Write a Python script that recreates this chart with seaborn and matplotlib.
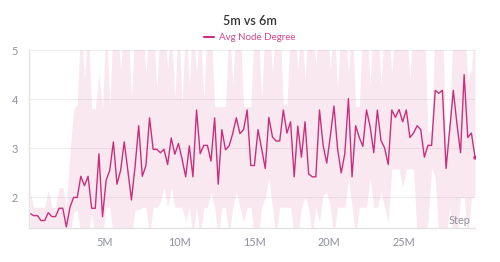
import numpy as np
import pandas as pd
import matplotlib
matplotlib.use("Agg")
import matplotlib.pyplot as plt
import seaborn as sns

title = "5m vs 6m"
series_name = "Avg Node Degree"
x_label = "Step"
x_ticks = [5e6, 10e6, 15e6, 20e6, 25e6]
x_tick_labels = ["5M", "10M", "15M", "20M", "25M"]
y_ticks = [2, 3, 4, 5]
y_tick_labels = ["2", "3", "4", "5"]

avg_degree = [
    1.67, 1.63, 1.63, 1.53, 1.53, 1.69, 1.61, 1.61, 1.78, 1.78, 1.40, 1.80, 2.00, 2.00, 2.43, 2.24, 2.43, 1.78, 1.78, 2.89, 1.61,
    2.35, 2.55, 3.13, 2.27, 2.55, 3.13, 2.55, 1.95, 2.63, 3.46, 2.43, 2.65, 3.62, 2.98, 2.98, 2.91, 2.98, 2.67, 3.21, 2.88, 3.10, 2.78,
    2.42, 3.05, 2.42, 3.78, 2.89, 3.06, 3.06, 2.74, 3.62, 2.27, 3.38, 2.97, 3.05, 3.30, 3.62, 3.30, 3.38, 3.78, 2.65, 2.65,
    3.38, 2.99, 2.59, 3.63, 3.23, 3.15, 3.15, 3.78, 3.31, 3.54, 2.42, 3.45, 2.82, 3.54, 2.48, 2.42, 2.42, 3.78, 3.06, 2.70, 3.25,
    3.86, 2.99, 2.50, 2.89, 4.01, 2.42, 3.46, 3.22, 3.04, 3.78, 3.44, 2.91, 3.78, 3.16, 3.01, 2.67, 3.78, 3.63, 3.79, 3.54,
    3.78, 3.22, 3.31, 3.46, 3.38, 2.82, 3.06, 3.06, 4.18, 4.12, 4.18, 2.59, 3.38, 4.18, 3.50, 2.91, 4.50, 3.22, 3.31, 2.82,
]

band_upper = [
    2.10, 1.80, 1.80, 1.80, 1.80, 2.15, 1.80, 1.80, 2.20, 2.20, 1.85, 2.90, 3.80, 3.90, 5.60, 4.40, 5.60, 3.80, 3.80, 4.50,
    3.80, 5.60, 3.85, 5.60, 5.60, 4.60, 5.60, 5.60, 4.00, 5.60, 5.60, 5.60, 4.50, 5.60, 5.60, 4.20, 5.60, 5.60, 4.60, 5.60,
    4.00, 5.60, 3.90, 5.60, 4.30, 5.60, 4.50, 5.60, 4.00, 5.60, 5.60, 3.85, 3.85, 3.85, 3.85, 5.60, 4.30, 5.60, 5.60, 3.85,
    3.85, 3.85, 5.60, 5.60, 4.00, 5.60, 5.60, 4.50, 5.60, 5.60, 3.90, 3.90, 5.60, 5.60, 4.60, 5.60, 4.40, 5.60, 5.60, 4.70,
    5.60, 5.60, 5.60, 4.60, 5.60, 4.20, 5.60, 5.60, 4.50, 5.60, 3.85, 3.85, 5.60, 5.60, 4.30, 5.60, 5.60, 4.30, 5.60, 5.60,
    4.50, 5.60, 5.60, 5.60, 5.60, 4.40, 5.60, 5.60, 5.60, 5.60, 3.30, 3.40, 5.60, 5.60, 5.60, 3.00, 3.60, 5.60, 5.60, 5.60,
    5.60, 4.40, 4.60, 5.60,
]

band_lower = [
    1.20, 1.20, 1.20, 1.20, 1.20, 1.20, 1.20, 1.20, 1.20, 1.20, 1.20, 1.20, 1.70, 1.75, 1.20, 1.20, 1.30, 1.65, 1.20, 1.20,
    1.20, 1.80, 1.80, 1.20, 1.20, 1.20, 1.20, 1.20, 1.20, 1.75, 1.75, 1.80, 1.80, 1.20, 1.80, 1.80, 1.90, 2.20, 1.80, 2.20,
    1.80, 1.80, 1.80, 1.50, 1.80, 1.20, 1.80, 1.20, 1.80, 1.80, 2.10, 1.80, 1.20, 1.80, 1.80, 1.20, 1.80, 2.10, 1.80, 1.50,
    1.80, 1.80, 1.20, 1.20, 1.80, 2.00, 2.40, 1.80, 1.20, 1.80, 1.80, 1.80, 1.80, 1.20, 1.20, 1.80, 2.00, 1.80, 1.20, 1.80,
    1.50, 2.05, 2.10, 1.80, 1.20, 1.80, 1.80, 1.80, 2.40, 1.80, 1.20, 1.80, 1.80, 1.80, 2.40, 1.80, 1.80, 2.10, 1.80, 1.50,
    2.58, 2.58, 2.58, 2.20, 2.58, 2.58, 2.58, 1.20, 1.20, 1.20, 1.50, 2.60, 2.40, 1.20, 1.20, 1.20, 1.80, 1.20, 1.20, 2.00,
    2.00, 1.20, 2.00, 2.00,
]

first_step = 0.06e6
last_step = 29.74e6
steps = np.linspace(first_step, last_step, len(avg_degree))

df = pd.DataFrame({"step": steps, "value": avg_degree,
                   "upper": band_upper, "lower": band_lower})

line_color = "#c92f7c"
legend_color = "#d0498c"
tick_color = "#8e909c"
grid_color = "#efefef"

sns.set_theme(style="white")
plt.rcParams["font.family"] = ["Lato", "DejaVu Sans"]

fig = plt.figure(figsize=(5.0, 2.62), dpi=100)
ax = fig.add_axes([0.0586, 0.131, 0.8914, 0.678])

ax.fill_between(df["step"], df["lower"], df["upper"], color=line_color,
                alpha=0.11, linewidth=0)
sns.lineplot(data=df, x="step", y="value", ax=ax, color=line_color,
             linewidth=1.0, label=series_name, legend=False)
last = df.iloc[[-1]]
sns.scatterplot(data=last, x="step", y="value", ax=ax, color=line_color,
                s=10, edgecolor=line_color, linewidth=0, zorder=5, legend=False)

ax.set_xlim(0, last_step)
ax.set_ylim(1.385, 5.0)
ax.set_xticks(x_ticks)
ax.set_xticklabels(x_tick_labels)
ax.set_yticks(y_ticks)
ax.set_yticklabels(y_tick_labels)
ax.set_xlabel("")
ax.set_ylabel("")
ax.grid(True, axis="y", color=grid_color, linewidth=0.8)
ax.grid(False, axis="x")
ax.set_axisbelow(True)

for side in ["top", "right"]:
    ax.spines[side].set_visible(False)
for side in ["left", "bottom"]:
    ax.spines[side].set_color("#e2e2e2")
    ax.spines[side].set_linewidth(1.0)

ax.tick_params(axis="both", colors=tick_color, labelsize=7.8, length=4,
               width=0.8, color="#e2e2e2", pad=3)
ax.tick_params(axis="y", pad=4)

ax.text(0.989, 0.043, x_label, transform=ax.transAxes, ha="right",
        va="center", fontsize=7.8, color=tick_color)

fig.text(0.499, 0.918, title, ha="center", va="center", fontsize=9,
         fontweight="semibold", color="#333333")

handle = plt.Line2D([], [], color=line_color, linewidth=1.5)
fig.legend([handle], [series_name], loc="center", bbox_to_anchor=(0.5, 0.856),
           frameon=False, fontsize=7, labelcolor=legend_color,
           handlelength=1.0, handletextpad=0.5, borderpad=0)

fig.savefig("out.png", dpi=100)
